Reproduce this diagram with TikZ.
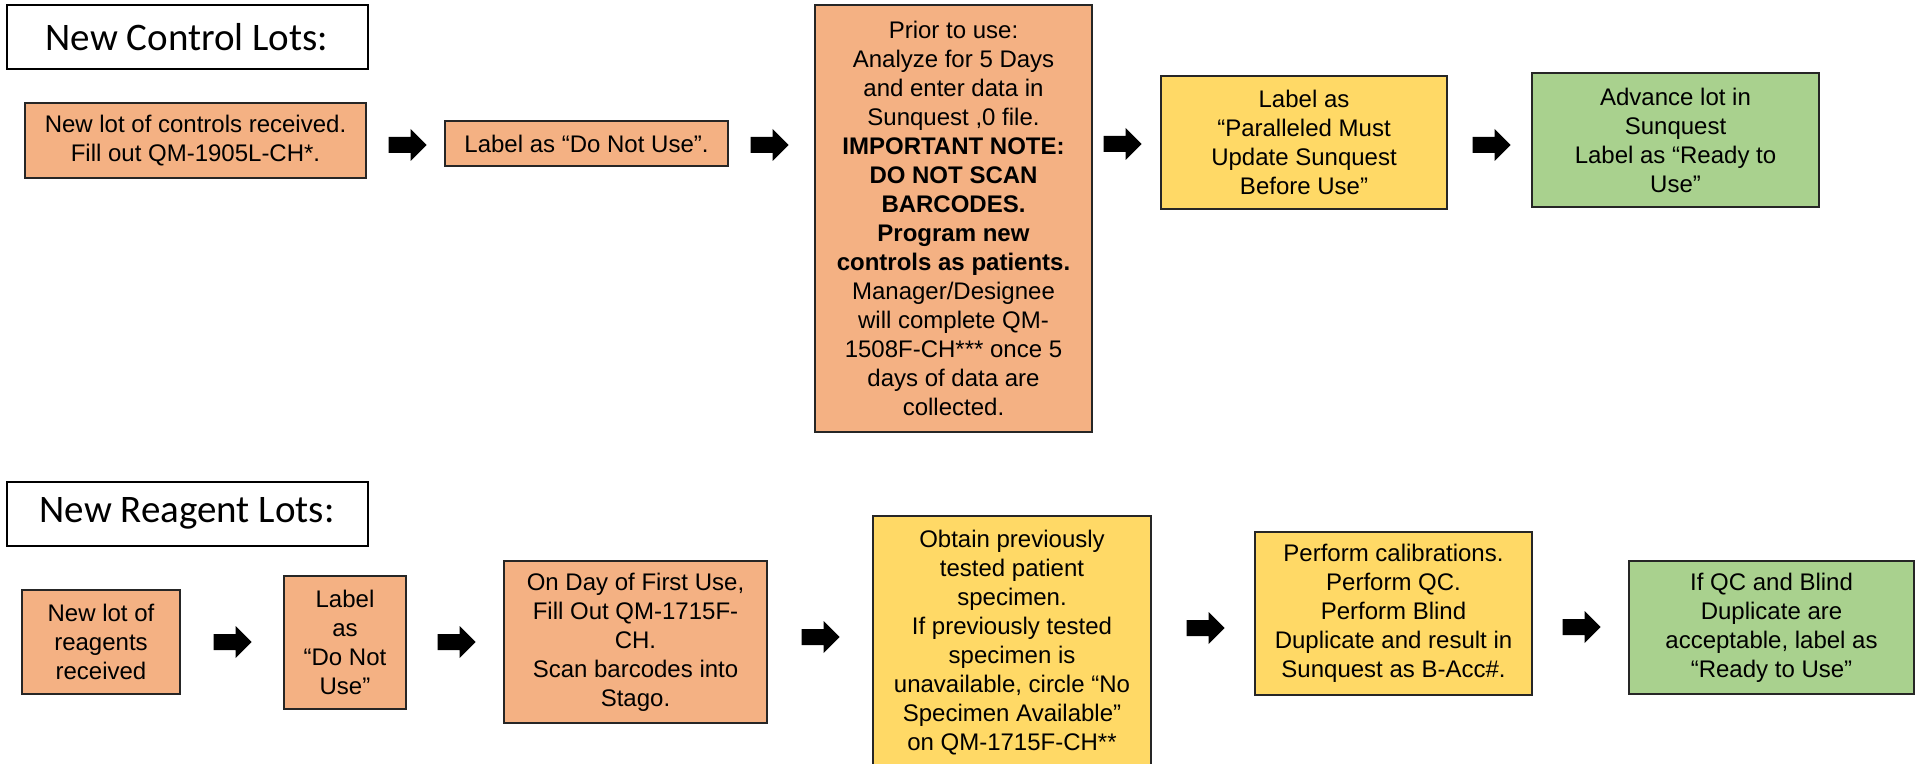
\documentclass[tikz,border=0pt]{standalone}
\usepackage{fontspec}
\setmainfont{Liberation Sans}
\newfontfamily\titlefont{Carlito}
\usetikzlibrary{calc}
\definecolor{boxorange}{RGB}{244,177,131}
\definecolor{boxyellow}{RGB}{255,217,102}
\definecolor{boxgreen}{RGB}{169,209,142}
\tikzset{
  stepbox/.style={draw=black!85, line width=0.7pt, inner sep=0pt, align=center,
    font=\fontsize{12}{14.5}\selectfont},
  orangebox/.style={stepbox, fill=boxorange},
  yellowbox/.style={stepbox, fill=boxyellow},
  greenbox/.style={stepbox, fill=boxgreen},
  titlebox/.style={draw=black, line width=1pt, fill=white, inner sep=0pt,
    minimum width=180.5pt, minimum height=32pt,
    font=\titlefont\fontsize{19.5}{23}\selectfont},
  blockarrow/.style={to path={
    ($(\tikztostart)+(#1,4pt)$) -- ++(11pt,0) -- ++(0,4pt) -- ++(8pt,-8pt)
    -- ++(-8pt,-8pt) -- ++(0,4pt) -- ++(-11pt,0) -- cycle}}
}
\begin{document}
\begin{tikzpicture}[x=0.5pt,y=-0.5pt]
\useasboundingbox (0,0) rectangle (1925,764);

% ---- Row 1: New Control Lots ----
\node[titlebox] (t1) at (187,37.5) {New Control Lots:};

\node[orangebox, minimum width=170.5pt, minimum height=37.5pt] (a1) at (195.5,140.5)
  {New lot of controls received.\\Fill out QM-1905L-CH*.};
\node[orangebox, minimum width=141.5pt, minimum height=22.5pt] (a2) at (586.5,143.5)
  {Label as “Do Not Use”.};
\node[orangebox, minimum width=138.5pt, minimum height=213.5pt] (a3) at (953.5,218.5)
  {Prior to use:\\Analyze for 5 Days\\and enter data in\\Sunquest ,0 file.\\
   \textbf{IMPORTANT NOTE:}\\\textbf{DO NOT SCAN}\\\textbf{BARCODES.}\\
   \textbf{Program new}\\\textbf{controls as patients.}\\Manager/Designee\\
   will complete QM-\\1508F-CH*** once 5\\days of data are\\collected.};
\node[yellowbox, minimum width=143pt, minimum height=66.5pt] (a4) at (1304,142.5)
  {Label as\\“Paralleled Must\\Update Sunquest\\Before Use”};
\node[greenbox, minimum width=143.5pt, minimum height=67pt] (a5) at (1675.5,140)
  {Advance lot in\\Sunquest\\Label as “Ready to\\Use”};

\fill (a1.east |- 0,145) to[blockarrow=11pt] (a2.west |- 0,145);
\fill (a2.east |- 0,145) to[blockarrow=11pt] (a3.west |- 0,145);
\fill (a3.east |- 0,144) to[blockarrow=5.5pt] (a4.west |- 0,144);
\fill (a4.east |- 0,145) to[blockarrow=12.5pt] (a5.west |- 0,145);

% ---- Row 2: New Reagent Lots ----
\node[titlebox] (t2) at (187,513.5) {New Reagent Lots:};

\node[orangebox, minimum width=79pt, minimum height=52pt] (b1) at (101,642)
  {New lot of\\reagents\\received};
\node[orangebox, minimum width=61pt, minimum height=66.5pt] (b2) at (345,642.5)
  {Label\\as\\“Do Not\\Use”};
\node[orangebox, minimum width=131.5pt, minimum height=81pt] (b3) at (635.5,642)
  {On Day of First Use,\\Fill Out QM-1715F-\\CH.\\Scan barcodes into\\Stago.};
\node[yellowbox, minimum width=139pt, minimum height=126.5pt] (b4) at (1012,642.5)
  {Obtain previously\\tested patient\\specimen.\\If previously tested\\specimen is\\
   unavailable, circle “No\\Specimen Available”\\on QM-1715F-CH**};
\node[yellowbox, minimum width=138.5pt, minimum height=81.5pt] (b5) at (1393.5,613.5)
  {Perform calibrations.\\Perform QC.\\Perform Blind\\Duplicate and result in\\Sunquest as B-Acc\#.};
\node[greenbox, minimum width=142.5pt, minimum height=66.5pt] (b6) at (1771.5,627.5)
  {If QC and Blind\\Duplicate are\\acceptable, label as\\“Ready to Use”};

\fill (b1.east |- 0,642) to[blockarrow=16.5pt] (b2.west |- 0,642);
\fill (b2.east |- 0,642) to[blockarrow=15.5pt] (b3.west |- 0,642);
\fill (b3.east |- 0,637) to[blockarrow=17pt] (b4.west |- 0,637);
\fill (b4.east |- 0,628) to[blockarrow=17.5pt] (b5.west |- 0,628);
\fill (b5.east |- 0,627) to[blockarrow=15pt] (b6.west |- 0,627);
\end{tikzpicture}
\end{document}
